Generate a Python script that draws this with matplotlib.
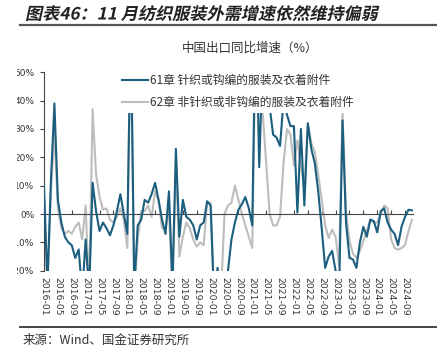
import matplotlib
matplotlib.use("Agg")
import matplotlib.pyplot as plt
from matplotlib.patches import Rectangle, PathPatch
from matplotlib.lines import Line2D
from matplotlib.textpath import TextPath
from matplotlib.font_manager import FontProperties
from matplotlib.transforms import Affine2D, IdentityTransform

plt.rcParams['font.family'] = ['Noto Sans CJK SC', 'DejaVu Sans']

# monthly, 2016-01 .. 2024-11
months = ["%d-%02d" % (2016 + k // 12, k % 12 + 1) for k in range(107)]

knit61 = [9.8, -25, 12, 39, 5, -3, -8, -10, -11, -15.5, -12.5, -28, -9, -28, 11, 1,
          -6, -3, -5, -7.5, -4, 1, 7, 0, -7, 70, -26, -4, -2, 5, 4, 7,
          11, 5, -2, -7, 8, -25, 23, -8, 5, -1, -2, -4, -9, -4, -3, 4.5,
          3, -30, -19, -30, -30, -20, -9, -3, 1.5, 3.5, 6, 2, -4, 75, 16.5, 55,
          45, 38, 28, 27, 24, 40, 35, 31, 31, 0.5, 30, 3, 32, 23, 18, 8,
          -5, -19, -15, -13, -20, -28, 33, -3, -15.5, -16, -19, -10, -4.5, -8, -2, -2.5,
          -6.5, 1, 2, -3, -5.5, -7, -11, -4.5, -1, 1.5, 1.3]

woven62 = [3, -25, 8, 29, 2, -5, -7, -6, -7, -4.5, -3, -9, 3, -28, 37, 14,
           6, 1.5, 2, -2, -3, -1, 2, -2, -12, 65, -28, -9, 1, 1, 3, -1,
           8, 5, -5, -5, 1, -28, 18, -15, -8, -3, -5, -9, -11.5, -10, -11, 4,
           4, -30, -30, -28, 0, 3, 4, 10, 5, 0, -4, -8, -12, 65, 60, 36,
           18, 0, -4, -4, -1, 18, 30, 28, 17, 26, 17, 9, 32, 25, 22, 14,
           5, -4, -8.5, -5.5, -8, -18, 36, 1, -9.5, -14, -15.5, -13, -9.5, -6, -2, -3,
           -3, 0, 3, 2, -9, -12, -12.6, -12, -11, -6, -2]

yticks = [-20, -10, 0, 10, 20, 30, 40, 50]
legend_labels = ["61章 针织或钩编的服装及衣着附件", "62章 非针织或非钩编的服装及衣着附件"]
title = "图表46：11 月纺织服装外需增速依然维持偏弱"

blue = '#1b5e7e'
grey = '#bdbdbd'

W, H = 437, 352
fig = plt.figure(figsize=(W / 100, H / 100), dpi=100)

def fx(px):
    return px / W

def fy(py):
    return 1 - py / H

ax = fig.add_axes([fx(44), fy(270.7), fx(413) - fx(44), (270.7 - 72.3) / H])

x = list(range(len(months)))
ax.plot(x, woven62, color=grey, lw=1.5, zorder=2)
ax.plot(x, knit61, color=blue, lw=1.5, zorder=3)

ax.set_xlim(0, 106.3)
ax.set_ylim(-20, 50)
ax.set_yticks(yticks)
ax.set_yticklabels(["%d%%" % v for v in yticks])
ax.set_xticks(x[::4])
ax.set_xticklabels(months[::4])

ax.spines['top'].set_visible(False)
ax.spines['right'].set_visible(False)
ax.spines['bottom'].set_position(('data', 0))
ax.spines['bottom'].set_color('#444444')
ax.spines['left'].set_color('#444444')
ax.tick_params(axis='x', direction='in', length=3, color='#444444', pad=45,
               labelrotation=270, labelsize=6.7, labelcolor='#333333')
ax.tick_params(axis='y', direction='out', length=3, color='#444444', pad=4,
               labelsize=6.5, labelcolor='#333333')
for lab in ax.get_xticklabels():
    lab.set_family('DejaVu Sans')
    lab.set_ha('center')
    lab.set_va('top')
for lab in ax.get_yticklabels():
    lab.set_family('DejaVu Sans')

handles = [Line2D([], [], color=blue, lw=1.5), Line2D([], [], color=grey, lw=1.5)]
leg = ax.legend(handles, legend_labels, loc='upper left',
                bbox_to_anchor=(fx(118), fy(70)), bbox_transform=fig.transFigure,
                fontsize=8.5, frameon=True, facecolor='white', edgecolor='none',
                framealpha=1, fancybox=False, borderpad=0.35, borderaxespad=0,
                handlelength=2.2, handletextpad=0.2, labelspacing=0.75)
for t in leg.get_texts():
    t.set_color('#333333')

# the chart image is cut on its left side
fig.patches.append(Rectangle((0, fy(300)), fx(17), fy(60) - fy(300), transform=fig.transFigure,
                             facecolor='white', edgecolor='none', zorder=10))

# slanted (italic-looking) bold title, drawn as a path in pixel coordinates
fp = FontProperties(family=['Noto Sans CJK SC', 'DejaVu Sans'], weight='bold')
tp = TextPath((0, 0), title, size=16.8, prop=fp)
tt = Affine2D().skew_deg(12, 0).scale(1.02, 1.0).translate(25, H - 19.5) + IdentityTransform()
fig.patches.append(PathPatch(tp, transform=tt, facecolor='#222222', edgecolor='none', lw=0))

fig.add_artist(Line2D([fx(20), 1], [fy(25), fy(25)], color='#555555', lw=1.6,
                      transform=fig.transFigure))
fig.text(fx(250), fy(48), "中国出口同比增速（%）", fontsize=9, color='#333333',
         va='center', ha='center')
fig.add_artist(Line2D([fx(20), 1], [fy(327), fy(327)], color='#444444', lw=1.4,
                      transform=fig.transFigure))
fig.text(fx(23), fy(340), "来源：Wind、国金证券研究所", fontsize=9, color='#333333',
         va='center', ha='left')

fig.savefig("out.png", dpi=100)
